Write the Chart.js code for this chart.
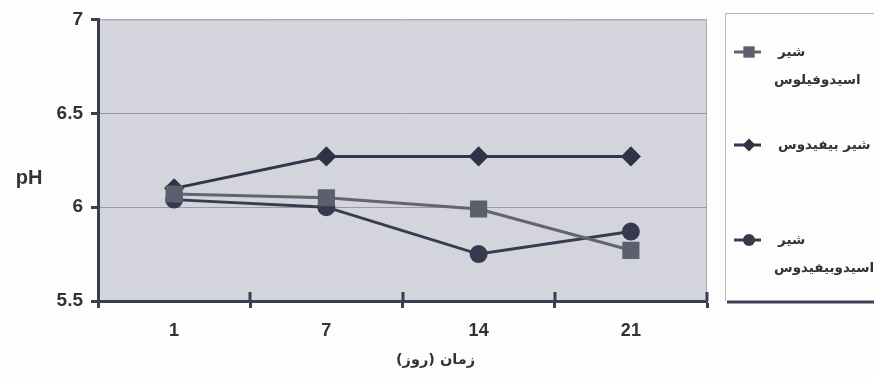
<!DOCTYPE html>
<html lang="fa">
<head>
    <meta charset="UTF-8">
    <title>pH - زمان (روز)</title>
    <script src="https://cdn.jsdelivr.net/npm/chart.js"></script>
    <style>
        html, body { margin: 0; padding: 0; background: #fdfdfd; }
        .chart-box { width: 874px; height: 378px; position: relative; }
    </style>
</head>
<body>
    <div class="chart-box">
        <canvas id="phChart" width="874" height="378"></canvas>
    </div>
    <script>
        // data
        const days = ['1', '7', '14', '21'];
        const yTicks = [5.5, 6, 6.5, 7];
        const acidophilus = [6.07, 6.05, 5.99, 5.77];
        const bifidus = [6.10, 6.27, 6.27, 6.27];
        const acidoBifidus = [6.04, 6.00, 5.75, 5.87];
        const seriesNames = [['شیر', 'اسیدوفیلوس'], ['شیر بیفیدوس'], ['شیر', 'اسیدوبیفیدوس']];
        const yTitle = 'pH';
        const xTitle = 'زمان (روز)';

        const dark = '#3b3e52';
        const textColor = '#333333';
        const latinFamily = '"Liberation Sans", Arial, sans-serif';
        const arabic = 'bold 13.5px "DejaVu Sans", "Liberation Sans", sans-serif';

        const decor = {
            id: 'decor',
            beforeDraw(chart) {
                const { ctx, chartArea: a } = chart;
                ctx.save();
                ctx.fillStyle = '#fdfdfd';
                ctx.fillRect(0, 0, chart.width, chart.height);
                ctx.fillStyle = '#d3d4dc';
                ctx.fillRect(a.left, a.top, a.right - a.left, a.bottom - a.top);
                ctx.strokeStyle = '#a9aab3';
                ctx.lineWidth = 1;
                ctx.beginPath();
                ctx.moveTo(a.left, a.top + 0.5);
                ctx.lineTo(a.right - 0.5, a.top + 0.5);
                ctx.lineTo(a.right - 0.5, a.bottom);
                ctx.stroke();
                ctx.restore();
            },
            afterDraw(chart) {
                const { ctx, chartArea: a } = chart;
                const xs = chart.scales.x;
                const step = xs.getPixelForValue(1) - xs.getPixelForValue(0);
                ctx.save();
                // tick marks crossing into the plot
                ctx.strokeStyle = dark;
                ctx.lineWidth = 3;
                for (let i = 0; i < days.length; i++) {
                    const px = Math.round(xs.getPixelForValue(i) + step / 2);
                    ctx.beginPath();
                    ctx.moveTo(px, a.bottom);
                    ctx.lineTo(px, a.bottom - 9);
                    ctx.stroke();
                }
                // axis titles
                ctx.fillStyle = textColor;
                ctx.textBaseline = 'middle';
                ctx.textAlign = 'center';
                ctx.font = 'bold 20px ' + latinFamily;
                ctx.fillText(yTitle, 29, (a.top + a.bottom) / 2 + 18);
                ctx.font = 'bold 14.5px "DejaVu Sans", "Liberation Sans", sans-serif';
                ctx.direction = 'rtl';
                ctx.fillText(xTitle, (a.left + a.right) / 2 + 33, 360);

                // legend box
                ctx.strokeStyle = '#b4b4ba';
                ctx.lineWidth = 1;
                ctx.beginPath();
                ctx.moveTo(725.5, 301);
                ctx.lineTo(725.5, 13.5);
                ctx.lineTo(874, 13.5);
                ctx.stroke();
                ctx.strokeStyle = dark;
                ctx.lineWidth = 3;
                ctx.beginPath();
                ctx.moveTo(727, 302);
                ctx.lineTo(874, 302);
                ctx.stroke();

                const rows = [52, 145, 240];
                chart.data.datasets.forEach((ds, i) => {
                    const y = rows[i];
                    ctx.strokeStyle = ds.borderColor;
                    ctx.lineWidth = 3;
                    ctx.beginPath();
                    ctx.moveTo(734, y);
                    ctx.lineTo(761, y);
                    ctx.stroke();
                    ctx.fillStyle = ds.pointBackgroundColor;
                    Chart.helpers.drawPoint(ctx, {
                        pointStyle: ds.pointStyle,
                        radius: ds.pointRadius * 0.8,
                        rotation: 0,
                        borderWidth: 0
                    }, 749, y);
                    ctx.fillStyle = textColor;
                    ctx.font = arabic;
                    ctx.direction = 'rtl';
                    ctx.textAlign = 'left';
                    seriesNames[i].forEach((line, j) => {
                        ctx.fillText(line, j ? 774 : 778, y + j * 28);
                    });
                });
                ctx.restore();
            }
        };

        const ctx = document.getElementById('phChart').getContext('2d');
        new Chart(ctx, {
            type: 'line',
            data: {
                labels: days,
                datasets: [
                    {
                        label: seriesNames[0].join(' '),
                        data: acidophilus,
                        borderColor: '#62656f',
                        backgroundColor: '#5c5f6e',
                        pointBackgroundColor: '#5c5f6e',
                        pointBorderColor: '#5c5f6e',
                        pointStyle: 'rect',
                        pointRadius: 10,
                        borderWidth: 3,
                        tension: 0
                    },
                    {
                        label: seriesNames[1].join(' '),
                        data: bifidus,
                        borderColor: '#33364a',
                        backgroundColor: '#2f3346',
                        pointBackgroundColor: '#2f3346',
                        pointBorderColor: '#2f3346',
                        pointStyle: 'rectRot',
                        pointRadius: 8,
                        borderWidth: 3,
                        tension: 0
                    },
                    {
                        label: seriesNames[2].join(' '),
                        data: acidoBifidus,
                        borderColor: '#393c50',
                        backgroundColor: '#373a4f',
                        pointBackgroundColor: '#373a4f',
                        pointBorderColor: '#373a4f',
                        pointStyle: 'circle',
                        pointRadius: 7.5,
                        borderWidth: 3,
                        tension: 0
                    }
                ]
            },
            options: {
                responsive: false,
                animation: false,
                layout: { padding: { top: 14, right: 167, left: 0, bottom: 0 } },
                plugins: { legend: { display: false }, tooltip: { enabled: false } },
                scales: {
                    x: {
                        offset: true,
                        afterFit(scale) { scale.height = 77; },
                        grid: {
                            offset: true,
                            drawOnChartArea: false,
                            tickLength: 7,
                            tickColor: dark,
                            tickWidth: 3
                        },
                        border: { color: dark, width: 3 },
                        ticks: { color: textColor, padding: 12, font: { family: latinFamily, size: 18, weight: 'bold' } }
                    },
                    y: {
                        min: yTicks[0],
                        max: yTicks[yTicks.length - 1],
                        afterFit(scale) { scale.width = 98; },
                        afterBuildTicks(scale) { scale.ticks = yTicks.map(v => ({ value: v })); },
                        grid: {
                            color: c => c.tick && c.tick.value === 7 ? '#a9aab3' : (c.tick && c.tick.value === 5.5 ? 'rgba(0,0,0,0)' : '#999aa4'),
                            lineWidth: 1,
                            tickLength: 7,
                            tickColor: dark,
                            tickWidth: 3
                        },
                        border: { color: dark, width: 3 },
                        ticks: {
                            color: textColor,
                            padding: 8,
                            font: { family: latinFamily, size: 19, weight: 'bold' },
                            callback: v => String(v)
                        }
                    }
                }
            },
            plugins: [decor]
        });
    </script>
</body>
</html>
